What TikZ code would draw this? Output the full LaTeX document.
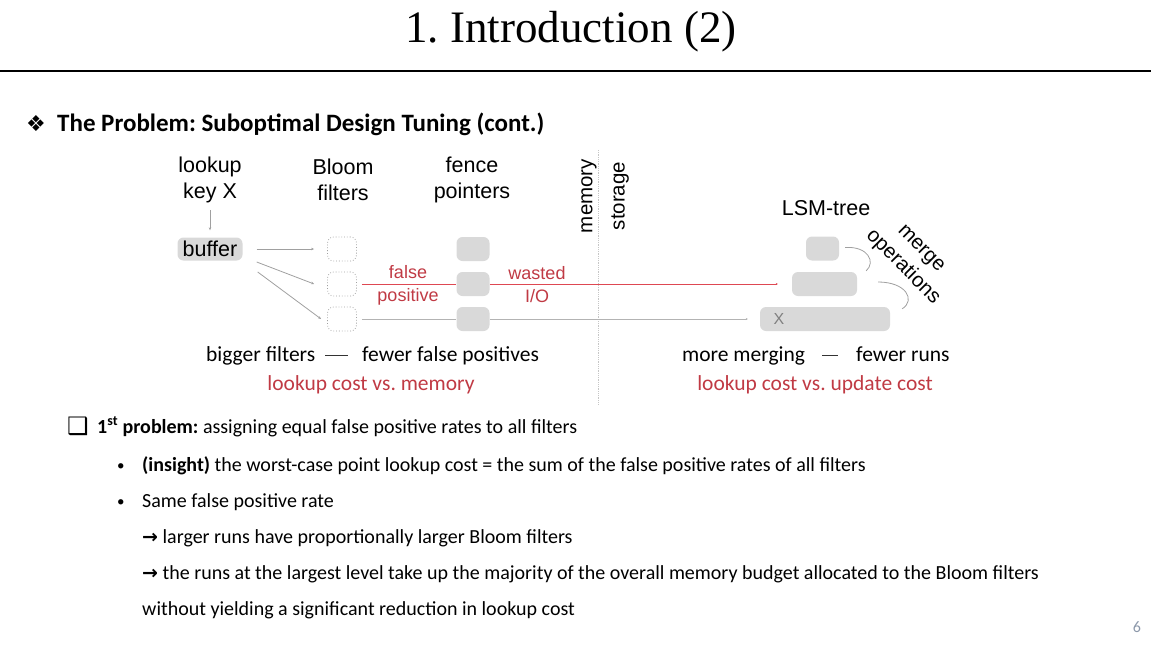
\documentclass[tikz,border=0pt]{standalone}
\usepackage{fontspec}
\setmainfont{Carlito}
\newfontfamily\arialfont{Liberation Sans}
\newfontfamily\timesfont{Liberation Serif}
\newfontfamily\symbfont{DejaVu Sans}
\usetikzlibrary{arrows.meta,positioning}
\definecolor{boxgray}{RGB}{217,217,217}
\definecolor{linegray}{RGB}{160,160,160}
\definecolor{costred}{RGB}{192,58,68}
\definecolor{iored}{RGB}{222,72,82}
\definecolor{pagegray}{RGB}{140,152,170}
\newcommand{\diagfont}{\arialfont\fontsize{21.5}{26.5}\selectfont}
\newcommand{\txtfont}{\fontsize{20}{24}\selectfont}
\newcommand{\tradefont}{\fontsize{21.5}{26}\selectfont}
\newcommand{\rarr}{{\symbfont\bfseries\fontsize{19}{20}\selectfont →}}
\frenchspacing

\begin{document}
\begin{tikzpicture}[x = 1pt, y = -1pt,
  lbl/.style = {font = \diagfont, align = center},
  redlbl/.style = {font = \arialfont\fontsize{18}{23}\selectfont, text = costred, align = center},
  run/.style = {fill = boxgray, rounded corners = 6pt, minimum height = 24pt, inner sep = 0pt},
  filt/.style = {draw = linegray, dotted, line width = 0.8pt, rounded corners = 6pt, minimum width = 29pt, minimum height = 24pt, inner sep = 0pt},
  conn/.style = {linegray, line width = 0.8pt, -{Stealth[length = 3pt, width = 2.5pt]}},
  trade/.style = {font = \tradefont, anchor = base west, inner sep = 2pt},
  txt/.style = {font = \txtfont, anchor = base west, inner sep = 0pt}]
\useasboundingbox (0,0) rectangle (1151,648);
\node[font = \timesfont\fontsize{45}{50}\selectfont] (title) at (571,32) {1. Introduction (2)};
\draw[line width = 2pt] (0,71) -- (1151,71);
\node[font = \symbfont\fontsize{22}{24}\selectfont, anchor = base] (diam) at (36,131) {❖};
\node[font = \bfseries\fontsize{25}{29}\selectfont, anchor = base west, inner sep = 0pt] (head) at (57,131) {The Problem: Suboptimal Design Tuning (cont.)};
% memory side
\node[lbl] (key) at (210,180) {lookup\\key X};
\node[lbl] (bloom) at (343,180) {Bloom\\filters};
\node[lbl] (fence) at (472,180) {fence\\pointers};
\node[lbl, run, minimum width = 65pt, minimum height = 23pt] (buffer) at (210,249) {buffer};
\draw[conn] ([yshift = -3pt]key.south) -- ([yshift = 7pt]buffer.north);
\foreach \y/\n in {249/1, 284/2, 319/3} {
  \node[filt] (bf\n) at (342,\y) {};
  \node[run, minimum width = 33pt] (fp\n) at (473,\y) {};
}
\draw[conn] ([xshift = 14pt]buffer.east) -- ([xshift = -13pt]bf1.west);
\draw[conn] ([xshift = 14pt, yshift = -13pt]buffer.east) -- ([xshift = -13pt]bf2.west);
\draw[conn] ([xshift = 15pt, yshift = -23pt]buffer.east) -- ([xshift = -6pt]bf3.west);
\node[redlbl] (fpos) at (408,285) {false\\positive};
\node[redlbl] (wasted) at (537,285) {wasted\\I/O};
% memory / storage split
\node[lbl, rotate = 90, font = \arialfont\fontsize{20.5}{24}\selectfont] (mem) at (589,196) {memory};
\node[lbl, rotate = 90, font = \arialfont\fontsize{20.5}{24}\selectfont] (stor) at (620,196) {storage};
\draw[densely dotted, linegray!60, line width = 0.8pt] (598,150) -- (598,405);
% storage side
\node[lbl] (lsm) at (826,208) {LSM-tree};
\node[run, minimum width = 33pt] (run1) at (822.5,248.5) {};
\node[run, minimum width = 65pt] (run2) at (824.5,284) {};
\node[run, minimum width = 130pt] (run3) at (825,319) {};
\node[font = \arialfont\fontsize{16}{18}\selectfont, text = gray] (x) at (779,319) {X};
\draw[iored, line width = 0.8pt] ([xshift = 5pt]bf2.east) -- (fp2.west);
\draw[iored, line width = 0.8pt, -{Stealth[length = 2pt, width = 2pt]}] (fp2.east) -- ([xshift = -14pt]run2.west);
\draw[linegray!80, line width = 0.8pt] ([xshift = 5pt]bf3.east) -- (fp3.west);
\draw[linegray!80, line width = 0.8pt, -{Stealth[length = 2pt, width = 2pt]}] (fp3.east) -- ([xshift = -12pt]run3.west);
\draw[linegray, line width = 0.8pt] ([xshift = 6pt, yshift = 1pt]run1.east) .. controls (868,246) and (876,262) .. ([xshift = 9pt, yshift = 1pt]run2.north east);
\draw[linegray, line width = 0.8pt] ([xshift = 21pt, yshift = 2pt]run2.east) .. controls (906,282) and (916,300) .. ([xshift = 12pt, yshift = -2pt]run3.north east);
\node[lbl, rotate = -45, font = \arialfont\fontsize{20.5}{26}\selectfont] (merge) at (911,259) {merge\\operations};
% trade-offs
\node[trade] (bigger) at (204,361) {bigger filters};
\node[trade] (fewerfp) at (360,361) {fewer false positives};
\draw[black!80, line width = 1pt] ([xshift = 8pt, yshift = 6pt]bigger.base east) -- ([xshift = -12pt, yshift = 6pt]fewerfp.base west);
\node[trade, text = costred, anchor = base] (lcmem) at (371,390) {lookup cost vs. memory};
\node[trade] (merging) at (680,361) {more merging};
\node[trade] (fewerruns) at (854,361) {fewer runs};
\draw[black!80, line width = 1pt] ([xshift = 15pt, yshift = 6pt]merging.base east) -- ([xshift = -16pt, yshift = 6pt]fewerruns.base west);
\node[trade, text = costred, anchor = base] (lcupd) at (815,390) {lookup cost vs. update cost};
% text
\node[font = \symbfont\fontsize{24}{26}\selectfont, anchor = base west, inner sep = 0pt] (sq) at (67,434) {❑};
\node[txt] (p1) at (97,433) {\textbf{1\textsuperscript{st} problem:} assigning equal false positive rates to all filters};
\node[txt, font = \fontsize{15}{18}\selectfont] (b1) at (117,470) {•};
\node[txt] (t1) at (142,471) {\textbf{(insight)} the worst-case point lookup cost = the sum of the false positive rates of all filters};
\node[txt, font = \fontsize{15}{18}\selectfont] (b2) at (117,506) {•};
\node[txt] (t2) at (142,507) {Same false positive rate};
\node[txt] (t3) at (142,543) {\rarr{} larger runs have proportionally larger Bloom filters};
\node[txt] (t4) at (142,579) {\rarr{} the runs at the largest level take up the majority of the overall memory budget allocated to the Bloom filters};
\node[txt] (t5) at (142,615) {without yielding a significant reduction in lookup cost};
\node[font = \fontsize{16}{18}\selectfont, text = pagegray] (page) at (1137,627) {6};
\end{tikzpicture}
\end{document}
